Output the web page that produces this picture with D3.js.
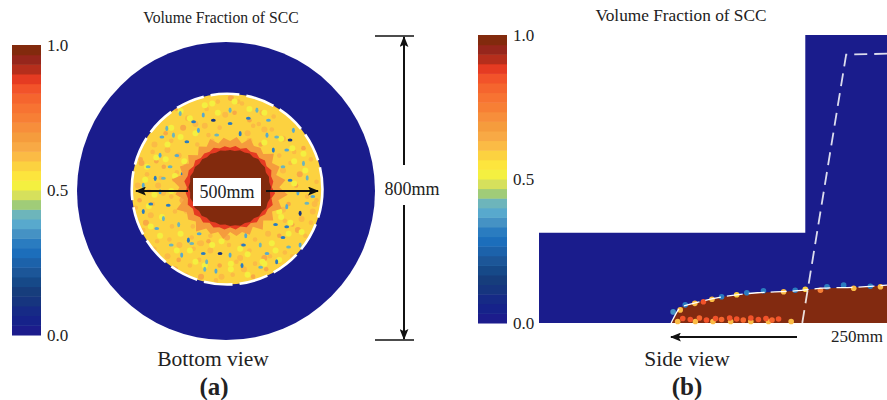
<!DOCTYPE html>
<html>
<head>
<meta charset="utf-8">
<script src="https://cdn.jsdelivr.net/npm/d3@7"></script>
<style>
html,body{margin:0;padding:0;background:#fff;overflow:hidden}
text{font-family:"Liberation Serif","Times New Roman",serif;fill:#222}
</style>
</head>
<body>
<svg id="chart" width="887" height="400"></svg>
<script>
// colour levels of the bar, value 0 -> 1
const levelColors = ['#1a1c8c','#18238a','#172a86','#16347f','#153c7c','#174a88','#1a5698','#1c62aa','#1f6ebb','#2c7cc0',
  '#4592c4','#58a9cd','#6db5bb','#a0cc78','#d6e05c','#f4f03f','#fde53c','#fcd240','#fbbb44','#f8a945',
  '#f59c3e','#f78e3b','#f77f36','#f77333','#f5652e','#f2522a','#e53a22','#b52e1a','#96281a','#822a10'];
const barTicks = [0, 0.5, 1];
const barFractions = d3.range(levelColors.length);

// bottom view, mm
const outerDiameter = 800;
const innerDiameter = 512;
const profileAngles = d3.range(0,360,7.5);
const coreRadius = [100,98,103,101,105,102,107,105,108,104,108,106,110,108,112,109,112,108,110,105,108,104,107,103,104,101,104,102,106,103,108,105,110,107,111,108,112,108,111,107,109,104,106,102,104,100,102,99];
const redRadius = [106,112,107,114,110,116,111,118,113,120,114,117,112,122,115,124,117,119,113,118,111,116,109,114,107,114,111,117,110,119,114,121,115,123,117,120,116,124,118,120,113,118,111,114,110,115,108,111];
const orangeRadius = [124,136,122,142,128,134,126,148,130,144,128,150,132,156,134,150,130,146,126,144,122,138,124,132,120,140,124,136,128,150,130,142,134,156,128,148,136,158,132,146,128,142,122,138,126,140,122,134];
const blueX = [-162,-175,-144,-108,-180,-153,-193,-171,-180,-158,-171,-189,-104,-95,-122,-64,-55,-19,8,44,89,107,133,165,196,160,196,214,160,169,205,160,124,133,178,57,8,-37,-77,8,80,111,35,-28,-64,-90,-126,169,107,-212,-225,-205,-130,-75,40,90,-30,150,215,-135,-120,150,190,130,-60,230,-225,-150,50];
const blueY = [163,140,145,127,91,60,29,29,-7,-43,-79,-106,-137,-146,-177,-173,-195,-173,-177,-150,-150,-173,-195,-155,-150,-101,-65,-38,-47,24,69,105,105,140,158,190,212,185,158,176,212,185,149,145,199,181,203,132,145,60,10,-40,-95,-120,-205,-210,-220,-130,30,90,40,60,-10,-95,-215,-20,-60,-150,-125];
const blueV = [0.4,0.37,0.4,0.33,0.37,0.4,0.33,0.4,0.37,0.33,0.4,0.37,0.33,0.4,0.37,0.33,0.4,0.1,0.37,0.33,0.4,0.37,0.33,0.4,0.37,0.33,0.1,0.4,0.37,0.33,0.4,0.37,0.33,0.4,0.37,0.33,0.4,0.1,0.37,0.33,0.4,0.37,0.33,0.4,0.37,0.33,0.4,0.1,0.37,0.4,0.37,0.33,0.4,0.37,0.33,0.4,0.37,0.33,0.4,0.37,0.33,0.4,0.37,0.33,0.4,0.37,0.33,0.4,0.37];
const orangeX = [-230,-215,-200,-185,-170,-150,-130,-110,-235,-205,-178,-148,-120,-95,-225,-195,-165,-140,-240,-210,-190,-160,-135,-245,-218,-188,-155,-128,-232,-200,-172,-142,-112,-215,-185,-150,-118,-92,-195,-160,-130,-100,-70,-170,-135,-105,-80,-50,-140,-110,-75,-45,-20,15,45,75,105,-85,-55,-25,10,40,70,100,130,-40,-5,30,60,95,125,155,-70,-30,5,35,70,115,145,-90,-50,-15,25,60,100,140,175,60,90,120,150,180,205,230,140,170,195,225,240,150,185,215,235,135,165,200,225,155,190,210,240,150,175,205,-60,-20,20,55,85,-45,0,40,75,110,140,-75,-10,30];
const orangeY = [70,40,100,10,60,-20,90,-60,-30,-70,30,-100,-30,-130,-110,120,150,-60,10,-5,75,105,45,-50,-90,-140,-135,-150,80,-40,-10,25,70,170,185,130,165,-100,-160,-180,-190,-205,-145,200,215,190,120,145,-215,-230,-190,-165,-205,-230,-215,-200,-215,175,215,235,245,230,170,160,225,130,200,235,185,205,195,-170,-235,-245,-150,-185,-235,-180,-215,-160,-140,-235,-195,-165,-185,-195,-180,130,120,160,135,100,110,-60,90,70,40,80,20,50,10,-20,-40,-20,-40,-80,-90,-85,-110,-125,-30,-55,-95,-165,170,165,205,150,175,-125,-130,-150,-135,-120,-125,-145,-110,-115];
const lightX = [-220,-195,-165,-140,-115,-210,-175,-150,-125,-100,-215,-190,-160,-125,-205,-180,-135,-85,-40,10,55,95,130,165,200,225,210,180,145,120,180,205,175,145,100,60,20,-25,-60,-100,-150,-125,-85,-40,10,55,100,140,170,-15,35,-60,100,140];
const lightY = [25,-15,80,35,75,-45,-75,-5,-120,-165,60,85,120,140,-100,-125,-165,-195,-150,-200,-175,-195,-165,-120,-115,-5,50,15,-75,-145,75,95,110,135,205,215,235,205,225,190,165,210,150,230,-215,-230,-200,-190,-90,-140,-160,-205,125,-60];
const coreCenter = [8, 5];

// side view, mm
const sideWidth = 690;
const sideHeight = 571;
const blockStep = [[0,0],[0,179],[528,179],[528,571],[690,571],[690,0]];
const domeX = [262,266,280,319,365,433,498,563,631,690];
const domeY = [0,8,30,42,52,60,63,69,71,75];
const nozzleX = [522,609,690];
const nozzleY = [0,532,534];
const edgeX = [266,280,290,309,326,343,362,392,412,445,485,508,528,558,571,604,624,657,677];
const edgeY = [22,26,36,39,42,47,52,56,60,64,62,65,67,65,72,75,69,73,72];
const edgeV = [0.35,0.62,0.3,0.62,0.85,0.6,0.33,0.58,0.3,0.3,0.62,0.3,0.58,0.75,0.33,0.33,0.6,0.33,0.6];
const floorX = [285,300,318,332,350,362,378,392,405,420,435,450,462,475];
const floorY = [9,7,10,6,9,7,10,8,6,10,7,9,6,8];
const floorV = [0.85,0.85,0.8,0.85,0.85,0.8,0.85,0.85,0.8,0.85,0.85,0.85,0.8,0.85];
const floorLowX = [275,310,345,380,420,455,500];
const floorLowY = [3,3,3,3,3,3,3];
const floorLowV = [0.6,0.62,0.6,0.62,0.6,0.62,0.6];

const svg = d3.select('#chart');
const defs = svg.append('defs');
defs.append('filter').attr('id','soft').append('feGaussianBlur').attr('stdDeviation',0.7);
defs.append('filter').attr('id','softer').append('feGaussianBlur').attr('stdDeviation',0.4);
defs.append('marker').attr('id','head')
  .attr('viewBox','0 0 10 8').attr('refX',9).attr('refY',4)
  .attr('markerWidth',11).attr('markerHeight',9).attr('markerUnits','userSpaceOnUse').attr('orient','auto-start-reverse')
  .append('path').attr('d','M0,0L10,4L0,8L2,4Z').attr('fill','#111');

let color = d3.scaleQuantize().domain([0,1]).range(levelColors);
let deepBlue = color(0);

function colorBar(left, top, bottom){
  let g = svg.append('g');
  let band = d3.scaleBand().domain(barFractions).range([bottom, top]);
  g.append('g').attr('filter','url(#softer)').selectAll('rect').data(barFractions).enter().append('rect')
    .attr('x',left).attr('width',29)
    .attr('y',d=>band(d)).attr('height',band.bandwidth()+0.5)
    .attr('fill',d=>levelColors[d]);
  let y = d3.scaleLinear().domain([0,1]).range([bottom, top]);
  let axis = d3.axisRight(y).tickValues(barTicks).tickSize(0).tickPadding(6).tickFormat(d3.format('.1f'));
  let ga = g.append('g').attr('transform','translate('+(left+29)+',0)').call(axis);
  ga.select('.domain').remove();
  ga.selectAll('text').attr('font-size',17).attr('font-family','Liberation Serif');
}

function label(x, y, txt, size, weight){
  return svg.append('text').attr('x',x).attr('y',y).attr('text-anchor','middle')
    .attr('font-size',size).attr('font-weight',weight||'normal').text(txt);
}

function arrow(x1,y1,x2,y2){
  svg.append('line').attr('x1',x1).attr('y1',y1).attr('x2',x2).attr('y2',y2)
    .attr('stroke','#111').attr('stroke-width',2).attr('marker-end','url(#head)');
}

// (a) bottom view
colorBar(12, 45, 335);

let xa = d3.scaleLinear().domain([-400,400]).range([78,374]);
let ya = d3.scaleLinear().domain([-400,400]).range([340,42]);
let ra = d3.scaleLinear().domain([0,800]).range([0,298]);

svg.append('circle').attr('cx',xa(0)).attr('cy',ya(0)).attr('r',ra(outerDiameter/2)).attr('fill',deepBlue);

let nozzle = svg.append('g').attr('transform','translate('+xa(3)+','+ya(5)+')');
defs.append('clipPath').attr('id','inner').append('circle').attr('r',ra(innerDiameter/2));
nozzle.append('circle').attr('r',ra(innerDiameter/2)).attr('fill',color(0.57));

let speck = nozzle.append('g').attr('clip-path','url(#inner)').append('g').attr('filter','url(#soft)');
speck.selectAll('.o').data(orangeX).enter().append('circle').attr('class','o')
  .attr('cx',d=>ra(d)).attr('cy',(d,i)=>-ra(orangeY[i])).attr('r',(d,i)=>i%3==0?3:2.3)
  .attr('fill',(d,i)=>color(i%4==0?0.66:0.62));
speck.selectAll('.l').data(lightX).enter().append('circle').attr('class','l')
  .attr('cx',d=>ra(d)).attr('cy',(d,i)=>-ra(lightY[i])).attr('r',3)
  .attr('fill',color(0.52));
speck.selectAll('.b').data(blueX).enter().append('ellipse').attr('class','b')
  .attr('cx',d=>ra(d)).attr('cy',(d,i)=>-ra(blueY[i]))
  .attr('rx',(d,i)=>i%2==0?1.5:2.4).attr('ry',(d,i)=>i%2==0?2.6:1.5)
  .attr('fill',(d,i)=>color(blueV[i]));

function ringPath(radii){
  let toRad = d3.scaleLinear().domain([0,360]).range([0,2*Math.PI]);
  return d3.lineRadial().curve(d3.curveLinearClosed)
    .angle((d,i)=>toRad(profileAngles[i])).radius(d=>ra(d))(radii);
}
let ring = nozzle.append('g').attr('transform','translate('+ra(coreCenter[0])+','+(-ra(coreCenter[1]))+')').attr('filter','url(#soft)');
ring.append('path').attr('d',ringPath(orangeRadius)).attr('fill',color(0.68));
ring.append('path').attr('d',ringPath(redRadius)).attr('fill',color(0.88));
ring.append('path').attr('d',ringPath(coreRadius)).attr('fill',color(1));

nozzle.append('circle').attr('r',ra(innerDiameter/2)).attr('fill','none')
  .attr('stroke','#fff').attr('stroke-width',2.6).attr('stroke-dasharray','29,7');

svg.append('rect').attr('x',193).attr('y',178).attr('width',68).attr('height',28).attr('fill','#fff');
label(227,198,'500mm',18);
arrow(188,191,136,191);
arrow(266,191,318,191);

svg.selectAll('.capa').data([-400,400]).enter().append('line').attr('class','capa')
  .attr('x1',375).attr('x2',414).attr('y1',d=>d<0?340:36).attr('y2',d=>d<0?340:36)
  .attr('stroke','#111').attr('stroke-width',1.5);
arrow(404,165,404,37);
arrow(404,205,404,339);
label(412,195,'800mm',18);

label(221,23,'Volume Fraction of SCC',15.7);
label(213,366,'Bottom view',21.5);
label(214,395,'(a)',25,'bold');

// (b) side view
colorBar(478, 35, 323);

let xb = d3.scaleLinear().domain([0,sideWidth]).range([539,887]);
let yb = d3.scaleLinear().domain([0,sideHeight]).range([323,35]);
let sideLine = d3.line().x(d=>xb(d[0])).y(d=>yb(d[1]));

svg.append('path').attr('d',sideLine(blockStep)+'Z').attr('fill',deepBlue);

let domePts = domeX.map((d,i)=>[d,domeY[i]]);
let domeLine = d3.line().x(d=>xb(d[0])).y(d=>yb(d[1])).curve(d3.curveMonotoneX);
svg.append('path').attr('d',domeLine(domePts)+'L'+xb(sideWidth)+','+yb(0)+'Z').attr('fill',color(1));

let side = svg.append('g').attr('filter','url(#softer)');
[[floorLowX,floorLowY,floorLowV],[floorX,floorY,floorV],[edgeX,edgeY,edgeV]].forEach(function(set){
  side.selectAll(null).data(set[0]).enter().append('circle')
    .attr('cx',d=>xb(d)).attr('cy',(d,i)=>yb(set[1][i])).attr('r',2.8)
    .attr('fill',(d,i)=>color(set[2][i]));
});

svg.append('path').attr('d',domeLine(domePts)).attr('fill','none')
  .attr('stroke','#fff').attr('stroke-width',1.3).attr('stroke-dasharray','16,6');
svg.append('path').attr('d',sideLine(nozzleX.map((d,i)=>[d,nozzleY[i]]))).attr('fill','none')
  .attr('stroke','#fff').attr('stroke-opacity',0.85).attr('stroke-width',1.8).attr('stroke-dasharray','13,7');

arrow(797,337,671,337);
label(857,342,'250mm',17);
label(687,366,'Side view',21.5);
label(687,395,'(b)',25,'bold');
label(681,21,'Volume Fraction of SCC',17.3);
</script>
</body>
</html>
